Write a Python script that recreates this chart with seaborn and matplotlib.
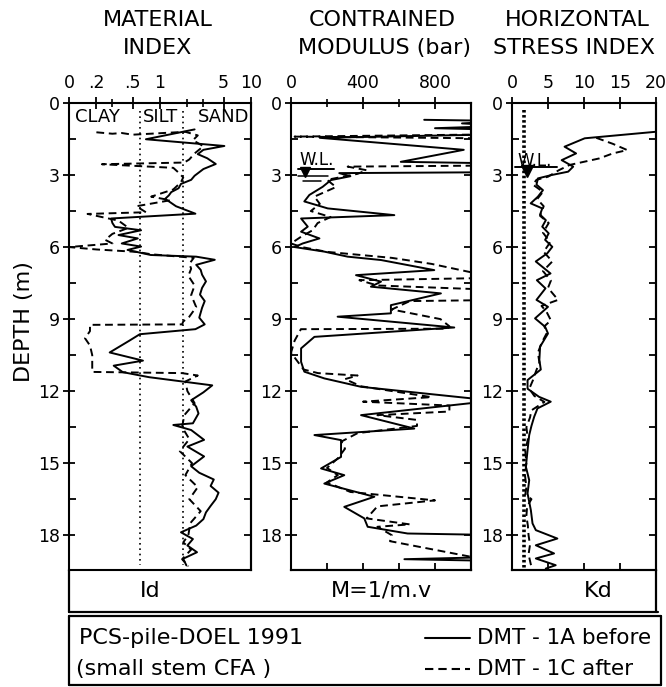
import numpy as np
import pandas as pd
import matplotlib
matplotlib.use("Agg")
import matplotlib.pyplot as plt
import seaborn as sns
from matplotlib.lines import Line2D
from matplotlib.ticker import FixedLocator, NullFormatter

# ---------------- data ----------------
# Panel 1 : material index Id (log scale)
depth_id_before = [1.10, 1.51, 1.79, 1.95, 2.13, 2.30, 2.54, 2.75, 3.03, 3.20, 3.37, 3.55, 3.71, 3.85, 3.99,
                   4.30, 4.61, 4.81, 5.00, 5.16, 5.30, 5.50, 5.64, 5.85, 5.98, 6.12, 6.33, 6.40, 6.53, 6.74,
                   6.95, 7.15, 7.43, 7.70, 7.98, 8.25, 8.53, 8.94, 9.22, 9.42, 9.63, 9.90, 10.39, 10.73,
                   10.94, 11.21, 11.42, 11.76, 12.05, 12.38, 12.65, 12.93, 13.34, 13.41, 13.62, 14.03, 14.31,
                   14.72, 15.13, 15.40, 15.68, 15.95, 16.23, 16.50, 16.78, 17.05, 17.33, 17.60, 17.88, 18.16,
                   18.43, 18.71, 18.98, 19.26]
id_before = [2.4, 0.70, 5.1, 3.0, 2.6, 3.3, 4.1, 3.0, 2.4, 2.2, 1.7, 1.6, 1.33, 1.25, 1.14,
             1.5, 2.45, 0.29, 0.30, 0.32, 0.62, 0.35, 0.57, 0.38, 0.62, 0.44, 0.79, 2.5, 4.0, 2.5,
             2.8, 2.9, 3.2, 2.9, 2.75, 3.1, 2.9, 2.7, 3.1, 2.45, 0.60, 0.46, 0.28, 0.65,
             0.31, 0.39, 0.76, 3.75, 3.0, 2.2, 2.5, 2.65, 2.3, 1.4, 2.2, 3.05, 2.0,
             3.05, 2.2, 2.7, 3.9, 3.6, 4.4, 4.1, 3.6, 3.2, 3.0, 2.5, 1.7, 2.3,
             2.0, 2.55, 1.8, 1.95]
depth_id_after = [1.22, 1.28, 1.25, 1.32, 1.20, 1.35, 1.55, 1.80, 2.10, 2.35, 2.48, 2.55, 2.70, 2.90, 3.10,
                  3.30, 3.60, 3.90, 4.05, 4.30, 4.55, 4.62, 4.90, 5.20, 5.45, 5.70, 5.85, 6.00, 6.10, 6.20,
                  6.30, 6.45, 6.70, 6.90, 7.20, 7.60, 8.00, 8.50, 8.90, 9.10, 9.22, 9.24, 9.50, 9.80,
                  10.10, 10.50, 11.00, 11.20, 11.25, 11.35, 11.60, 12.00, 12.50, 13.00, 13.50, 14.00,
                  14.50, 15.00, 15.50, 16.00, 16.50, 17.00, 17.50, 18.00, 18.30, 18.60, 19.00, 19.30]
id_after = [0.20, 0.30, 0.38, 0.50, 1.90, 2.60, 2.30, 3.00, 2.40, 2.10, 1.85, 0.23, 1.40, 1.60, 1.80,
            1.70, 1.40, 0.80, 1.30, 0.55, 0.70, 0.16, 0.35, 0.45, 0.30, 0.25, 0.30, 0.10, 0.20, 0.55,
            0.80, 2.35, 2.10, 2.20, 2.05, 2.40, 2.20, 2.50, 2.10, 1.80, 1.75, 0.17, 0.17, 0.15,
            0.17, 0.18, 0.18, 0.18, 1.75, 2.60, 1.90, 2.00, 2.40, 1.85, 1.75, 2.10,
            1.65, 2.25, 1.90, 2.60, 2.10, 2.80, 2.15, 2.05, 1.80, 2.20, 1.75, 2.05]
id_bounds = [0.6, 1.8]
id_ticks = [0.1, 0.2, 0.5, 1, 5, 10]
id_ticklabels = ["0", ".2", ".5", "1", "5", "10"]
id_minor = [0.3, 2, 3]
soil_labels = ["CLAY", "SILT", "SAND"]

# Panel 2 : constrained modulus M (bar) ; values beyond 1000 run off the frame
depth_m_before = [0.70, 0.75, 0.85, 0.95, 1.05, 1.12, 1.30, 1.45, 1.95, 2.45, 2.52, 2.88, 2.92, 3.05, 3.21,
                  3.49, 3.83, 4.10, 4.39, 4.67, 4.81, 5.15, 5.36, 5.64, 5.85, 6.00, 6.19, 6.40, 6.54,
                  6.96, 7.17, 7.44, 7.65, 7.93, 8.42, 8.76, 8.90, 9.35, 9.74, 10.22, 10.78, 11.19,
                  11.47, 11.82, 12.30, 12.40, 12.50, 13.00, 13.56, 13.83, 14.04, 14.74, 15.22, 15.50,
                  15.85, 16.40, 16.82, 17.30, 17.65, 17.93, 18.00, 18.90, 19.00, 19.08]
m_before = [740, 1200, 950, 1200, 800, 1200, 1200, 160, 960, 610, 1200, 1200, 268, 330, 222,
            176, 102, 74, 204, 574, 56, 93, 56, 158, 65, 20, 185, 315, 500,
            796, 361, 500, 444, 833, 555, 555, 259, 907, 130, 56, 56, 74,
            185, 389, 1000, 1200, 1000, 389, 685, 130, 278, 278, 167, 296,
            185, 463, 296, 407, 426, 648, 1200, 1200, 630, 1200]
depth_m_after = [1.30, 1.40, 1.48, 2.60, 2.65, 2.80, 2.95, 3.20, 3.50, 3.90, 4.20, 4.50, 4.75, 5.00, 5.30,
                 5.57, 5.85, 6.00, 6.20, 6.45, 6.70, 7.05, 7.15, 7.30, 7.38, 7.60, 7.80, 8.20, 8.25,
                 8.60, 9.00, 9.30, 9.40, 9.42, 9.90, 10.40, 11.10, 11.25, 11.35, 11.50, 11.80, 12.25,
                 12.44, 12.60, 12.85, 13.00, 13.20, 13.45, 13.75, 14.10, 14.40, 14.80, 15.20, 15.50,
                 15.80, 16.20, 16.55, 16.80, 17.30, 17.55, 17.65, 18.00, 18.25, 18.90, 19.00]
m_after = [1200, 20, 1200, 1200, 315, 420, 370, 200, 250, 130, 160, 110, 220, 148, 120,
           56, 0, 60, 200, 560, 780, 1000, 1200, 1000, 380, 480, 1200, 1200, 660,
           560, 830, 880, 870, 55, 20, 0, 70, 150, 370, 300, 390, 780,
           400, 880, 880, 480, 700, 700, 370, 280, 300, 260, 200, 260,
           200, 330, 800, 480, 420, 660, 480, 560, 550, 1000, 1200]
m_ticks = [0, 400, 800]
m_minor = [200, 600]

# Panel 3 : horizontal stress index Kd
depth_kd_before = [1.17, 1.47, 1.82, 2.10, 2.38, 2.65, 2.86, 3.00, 3.14, 3.40, 3.63, 3.90, 4.18, 4.39,
                   4.65, 4.88, 5.15, 5.43, 5.70, 5.99, 6.26, 6.60, 7.10, 7.38, 7.72, 8.20, 8.49, 8.97,
                   9.32, 9.60, 10.15, 10.70, 11.10, 11.54, 11.90, 12.24, 12.44, 12.72, 13.07, 13.45,
                   13.83, 14.46, 15.15, 15.71, 16.26, 16.96, 17.51, 17.79, 18.14, 18.42, 18.76, 18.97,
                   19.25, 19.39]
kd_before = [21.0, 10.1, 7.3, 8.9, 6.9, 8.5, 7.8, 5.5, 3.6, 3.4, 4.3, 3.6, 2.6, 4.2,
             3.9, 4.7, 4.2, 5.1, 4.6, 5.6, 4.9, 3.3, 5.35, 3.45, 4.65, 3.4, 5.0, 3.2,
             4.6, 5.0, 3.9, 3.8, 4.0, 2.16, 2.16, 3.77, 5.38, 3.54, 3.08, 2.7,
             2.39, 2.16, 1.93, 2.39, 2.16, 2.62, 2.85, 3.31, 6.3, 3.31, 5.84, 3.31,
             6.07, 4.69]
depth_kd_after = [1.45, 1.70, 1.96, 2.10, 2.31, 2.58, 2.80, 3.07, 3.20, 3.40, 3.70, 4.00, 4.30, 4.70,
                  5.00, 5.40, 5.80, 6.20, 6.60, 7.00, 7.40, 7.70, 8.20, 8.45, 8.70, 9.05, 9.30, 9.60,
                  10.00, 10.40, 10.80, 11.20, 11.55, 11.90, 12.20, 12.45, 12.80, 13.10, 13.50, 14.00,
                  14.50, 15.00, 15.50, 16.00, 16.30, 16.50, 16.80, 17.20, 17.60, 18.00, 18.40, 18.80,
                  19.20, 19.40]
kd_after = [11.7, 14.0, 16.0, 14.0, 12.1, 8.0, 6.5, 5.0, 3.4, 2.9, 4.3, 3.5, 4.4, 3.9,
            5.1, 4.3, 5.3, 4.4, 5.6, 4.3, 5.4, 5.0, 6.4, 4.1, 4.8, 5.4, 4.5, 4.8,
            4.1, 3.6, 3.8, 3.3, 2.9, 2.4, 3.1, 4.5, 2.7, 2.5, 2.0, 2.2,
            1.85, 2.0, 1.8, 2.0, 1.85, 2.7, 2.1, 2.0, 2.2, 2.3, 2.5, 2.3,
            2.6, 2.8]
kd_ref = 1.7
kd_ticks = [0, 5, 10, 15, 20]

depth_ticks = [0, 3, 6, 9, 12, 15, 18]
depth_minor = [1.5, 4.5, 7.5, 10.5, 13.5, 16.5]
depth_all = [1.5, 3, 4.5, 6, 7.5, 9, 10.5, 12, 13.5, 15, 16.5, 18]
wl_depth = 2.76

titles = [("MATERIAL", "INDEX"), ("CONTRAINED", "MODULUS (bar)"), ("HORIZONTAL", "STRESS INDEX")]
param_labels = ["Id", "M=1/m.v", "Kd"]

# ---------------- figure ----------------
sns.set_style("white")
plt.rcParams["font.family"] = ["DejaVu Sans"]
plt.rcParams["axes.linewidth"] = 1.5
for k in ["text.color", "axes.labelcolor", "xtick.color", "ytick.color", "axes.edgecolor"]:
    plt.rcParams[k] = "black"

W, H = 666, 687
fig = plt.figure(figsize=(W / 100, H / 100), dpi=100)


def fx(px):
    return px / W


def fy(py):
    return 1 - py / H


def rect(l, t, r, b):
    return [fx(l), fy(b), (r - l) / W, (b - t) / H]


ax1 = fig.add_axes(rect(69, 103, 251, 570))
ax2 = fig.add_axes(rect(291, 103, 471, 570))
ax3 = fig.add_axes(rect(512, 103, 656, 570))
axes = [ax1, ax2, ax3]

LW = 1.4
DASH = (4.0, 2.4)


def curve(ax, xs, ys, dashed=False):
    df = pd.DataFrame({"val": xs, "depth": ys})
    sns.lineplot(data=df, x="val", y="depth", sort=False, estimator=None,
                 ax=ax, color="black", lw=LW)
    if dashed:
        ax.lines[-1].set_dashes(DASH)


# panel 1
ax1.set_xscale("log")
curve(ax1, id_before, depth_id_before)
curve(ax1, id_after, depth_id_after, dashed=True)
for b in id_bounds:
    ax1.plot([b, b], [0.35, 19.25], color="black", lw=1.2, linestyle=(0, (1, 2.2)))
ax1.set_xlim(0.1, 10)

# panel 2
curve(ax2, m_before, depth_m_before)
curve(ax2, m_after, depth_m_after, dashed=True)
ax2.set_xlim(0, 1000)

# panel 3
curve(ax3, kd_before, depth_kd_before)
curve(ax3, kd_after, depth_kd_after, dashed=True)
ax3.plot([kd_ref, kd_ref], [0.3, 19.35], color="black", lw=2.6, linestyle=(0, (0.7, 0.7)))
ax3.set_xlim(0, 20)

# water level markers
ax2.plot([40, 240], [wl_depth, wl_depth], color="black", lw=1.4)
ax2.plot([40, 205], [wl_depth + 0.3, wl_depth + 0.3], color="black", lw=1.1)
ax2.plot([65, 165], [wl_depth + 0.5, wl_depth + 0.5], color="black", lw=1.1)
ax2.plot([78], [wl_depth + 0.12], marker="v", color="black", markersize=7)
ax3.plot([0.4, 6.2], [wl_depth - 0.08, wl_depth - 0.08], color="black", lw=1.4)
ax3.plot([2.1], [wl_depth + 0.08], marker="v", color="black", markersize=8)

for ax in axes:
    ax.set_xlabel("")
    ax.set_ylabel("")
    ax.set_ylim(19.45, 0)
    ax.yaxis.set_major_locator(FixedLocator(depth_ticks))
    ax.yaxis.set_minor_locator(FixedLocator(depth_minor))
    ax.yaxis.set_minor_formatter(NullFormatter())
    ax.set_yticklabels([str(t) for t in depth_ticks])
    ax.tick_params(axis="y", which="major", direction="inout", length=9, width=1.3,
                   left=True, right=False, labelsize=12.5, pad=2)
    ax.tick_params(axis="y", which="minor", direction="in", length=5, width=1.3,
                   left=True, right=False)
    ax.xaxis.tick_top()
    ax.tick_params(axis="x", which="major", direction="inout", length=8, width=1.3,
                   top=True, bottom=False, labeltop=True, labelbottom=False,
                   labelsize=12.5, pad=4)
    ax.tick_params(axis="x", which="minor", direction="inout", length=6, width=1.2,
                   top=True, bottom=False)
    for s in ax.spines.values():
        s.set_linewidth(1.5)
        s.set_color("black")
    sec = ax.secondary_yaxis("right")
    sec.yaxis.set_major_locator(FixedLocator(depth_all))
    sec.yaxis.set_major_formatter(NullFormatter())
    sec.tick_params(direction="in", length=5, width=1.3)
    ax.set_facecolor("white")

ax1.xaxis.set_major_locator(FixedLocator(id_ticks))
ax1.set_xticklabels(id_ticklabels)
ax1.xaxis.set_minor_locator(FixedLocator(id_minor))
ax1.xaxis.set_minor_formatter(NullFormatter())

ax2.xaxis.set_major_locator(FixedLocator(m_ticks))
ax2.xaxis.set_minor_locator(FixedLocator(m_minor))
ax2.xaxis.set_minor_formatter(NullFormatter())
secb2 = ax2.secondary_xaxis("bottom")
secb2.xaxis.set_major_locator(FixedLocator([200, 400, 600, 800]))
secb2.xaxis.set_major_formatter(NullFormatter())
secb2.tick_params(direction="in", length=5, width=1.3)

ax3.xaxis.set_major_locator(FixedLocator(kd_ticks))
secb3 = ax3.secondary_xaxis("bottom")
secb3.xaxis.set_major_locator(FixedLocator(kd_ticks[1:4]))
secb3.xaxis.set_major_formatter(NullFormatter())
secb3.tick_params(direction="in", length=5, width=1.3)

# ---------------- texts ----------------
title_x = [(158, 158), (382, 385), (577, 574)]
for (t1, t2), (x1, x2) in zip(titles, title_x):
    fig.text(fx(x1), fy(20), t1, ha="center", va="center", fontsize=16)
    fig.text(fx(x2), fy(48), t2, ha="center", va="center", fontsize=16)

for lab, px in zip(soil_labels, [97, 161, 224]):
    fig.text(fx(px), fy(117), lab, ha="center", va="center", fontsize=13)

fig.text(fx(317), fy(160), "W.L.", ha="center", va="center", fontsize=12)
fig.text(fx(535), fy(161), "W.L.", ha="center", va="center", fontsize=12)

fig.text(fx(24), fy(322), "DEPTH (m)", rotation=90, ha="center", va="center", fontsize=16)

for lab, px in zip(param_labels, [150, 381, 598]):
    fig.text(fx(px), fy(591), lab, ha="center", va="center", fontsize=16)

# label box and legend box
blk = dict(color="black", lw=1.6, transform=fig.transFigure)
fig.add_artist(Line2D([fx(69), fx(69)], [fy(570), fy(612)], **blk))
fig.add_artist(Line2D([fx(656), fx(656)], [fy(570), fy(612)], **blk))
fig.add_artist(Line2D([fx(69), fx(658)], [fy(612), fy(612)], **blk))
fig.add_artist(Line2D([fx(69), fx(661)], [fy(616), fy(616)], **blk))
fig.add_artist(Line2D([fx(69), fx(661)], [fy(685), fy(685)], **blk))
fig.add_artist(Line2D([fx(69), fx(69)], [fy(616), fy(685)], **blk))
fig.add_artist(Line2D([fx(661), fx(661)], [fy(616), fy(685)], **blk))

fig.text(fx(79), fy(638), "PCS-pile-DOEL 1991", ha="left", va="center", fontsize=16)
fig.text(fx(76), fy(669), "(small stem CFA )", ha="left", va="center", fontsize=16)
fig.add_artist(Line2D([fx(425), fx(470)], [fy(638), fy(638)], color="black", lw=1.5,
                      transform=fig.transFigure))
fig.add_artist(Line2D([fx(425), fx(470)], [fy(669), fy(669)], color="black", lw=1.5,
                      dashes=DASH, transform=fig.transFigure))
fig.text(fx(477), fy(638), "DMT - 1A before", ha="left", va="center", fontsize=15.5)
fig.text(fx(477), fy(669), "DMT - 1C after", ha="left", va="center", fontsize=15.5)

fig.savefig("out.png", dpi=100, facecolor="white")
